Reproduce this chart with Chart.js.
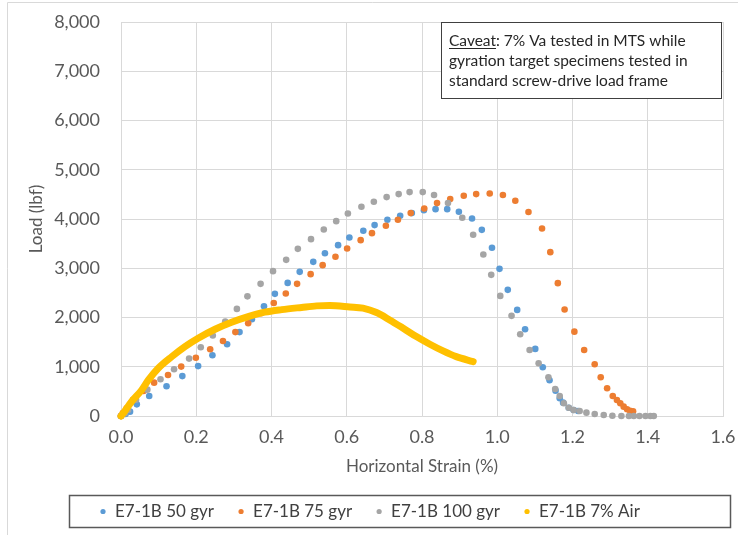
<!DOCTYPE html>
<html>
<head>
<meta charset="utf-8">
<script src="https://cdn.jsdelivr.net/npm/chart.js@4.4.1/dist/chart.umd.min.js"></script>
<style>
  html, body { margin: 0; padding: 0; background: #ffffff; }
  #wrap { width: 738px; height: 535px; position: relative; }
</style>
</head>
<body>
<div id="wrap"><canvas id="chart" width="738" height="535"></canvas></div>
<script>
// Indirect tension test results: load vs horizontal strain
const seriesLabels = ['E7-1B 50 gyr', 'E7-1B 75 gyr', 'E7-1B 100 gyr', 'E7-1B 7% Air'];

const strain50 = [0, 0.012, 0.024, 0.042, 0.075, 0.121, 0.163, 0.205, 0.243, 0.282, 0.315, 0.348, 0.380, 0.409, 0.443, 0.475, 0.511, 0.542, 0.577, 0.607, 0.644, 0.674, 0.708, 0.742, 0.773, 0.805, 0.836, 0.867, 0.898, 0.933, 0.959, 0.986, 1.006, 1.028, 1.053, 1.074, 1.101, 1.121, 1.139, 1.155, 1.166, 1.175, 1.190, 1.203, 1.215];
const load50 = [0, 40, 88, 237, 406, 605, 810, 1013, 1233, 1457, 1704, 1965, 2229, 2480, 2703, 2927, 3130, 3306, 3469, 3624, 3760, 3876, 3984, 4065, 4120, 4180, 4200, 4200, 4146, 4010, 3780, 3415, 2988, 2561, 2154, 1762, 1362, 990, 725, 515, 360, 271, 169, 122, 102];

const strain75 = [0, 0.005, 0.015, 0.032, 0.060, 0.088, 0.125, 0.160, 0.199, 0.237, 0.271, 0.304, 0.338, 0.372, 0.406, 0.438, 0.468, 0.504, 0.536, 0.570, 0.601, 0.637, 0.667, 0.704, 0.736, 0.770, 0.806, 0.840, 0.875, 0.911, 0.944, 0.980, 1.015, 1.048, 1.083, 1.119, 1.141, 1.161, 1.179, 1.205, 1.231, 1.259, 1.275, 1.292, 1.307, 1.318, 1.327, 1.336, 1.345, 1.353, 1.361];
const load75 = [0, 60, 156, 330, 510, 677, 833, 1003, 1182, 1355, 1524, 1704, 1884, 2087, 2293, 2486, 2683, 2880, 3063, 3232, 3401, 3571, 3713, 3862, 3984, 4120, 4214, 4323, 4404, 4472, 4506, 4519, 4486, 4370, 4143, 3807, 3327, 2697, 2161, 1713, 1341, 1051, 786, 563, 407, 325, 258, 190, 136, 108, 95];

const strain100 = [0, 0.010, 0.019, 0.040, 0.070, 0.105, 0.141, 0.181, 0.212, 0.244, 0.277, 0.308, 0.336, 0.371, 0.404, 0.439, 0.470, 0.505, 0.539, 0.572, 0.603, 0.639, 0.672, 0.706, 0.738, 0.767, 0.802, 0.832, 0.869, 0.907, 0.936, 0.963, 0.984, 1.008, 1.038, 1.061, 1.086, 1.110, 1.136, 1.154, 1.166, 1.177, 1.190, 1.203, 1.219, 1.237, 1.259, 1.283, 1.306, 1.330, 1.350, 1.363, 1.378, 1.394, 1.407, 1.416];
const load100 = [0, 50, 122, 330, 535, 745, 949, 1165, 1396, 1636, 1920, 2175, 2429, 2683, 2941, 3171, 3394, 3591, 3787, 3956, 4112, 4248, 4350, 4445, 4506, 4546, 4546, 4486, 4323, 4024, 3679, 3279, 2866, 2439, 2033, 1660, 1341, 1071, 786, 549, 407, 258, 169, 122, 102, 68, 41, 20, 6, 0, 0, 0, 0, 0, 0, 0];

const strainAir = [0, 0.012, 0.028, 0.055, 0.073, 0.099, 0.135, 0.170, 0.205, 0.250, 0.294, 0.338, 0.382, 0.427, 0.480, 0.520, 0.555, 0.608, 0.643, 0.679, 0.714, 0.750, 0.785, 0.821, 0.856, 0.891, 0.936];
const loadAir = [0, 120, 290, 528, 732, 970, 1206, 1409, 1579, 1762, 1904, 2018, 2108, 2160, 2205, 2236, 2245, 2215, 2189, 2100, 1951, 1782, 1612, 1457, 1321, 1205, 1104];

const xTickValues = [0, 0.2, 0.4, 0.6, 0.8, 1.0, 1.2, 1.4, 1.6];
const yTickValues = [0, 1000, 2000, 3000, 4000, 5000, 6000, 7000, 8000];

const caveatLines = [
  { lead: 'Caveat', rest: ': 7% Va tested in MTS while' },
  { lead: '', rest: 'gyration target specimens tested in' },
  { lead: '', rest: 'standard screw-drive load frame' }
];

const colors = ['#5B9BD5', '#ED7D31', '#A5A5A5', '#FFC000'];
const FONT = 'Lato, "Open Sans", sans-serif';

const toPoints = (xs, ys) => xs.map((x, i) => ({ x: x, y: ys[i] }));

function dotSeries(idx, xs, ys, order) {
  return {
    label: seriesLabels[idx],
    data: toPoints(xs, ys),
    showLine: false,
    pointRadius: 3.3,
    pointBorderWidth: 0,
    pointBackgroundColor: colors[idx],
    backgroundColor: colors[idx],
    borderColor: colors[idx],
    order: order,
    clip: false
  };
}

// Caveat note box, chart frame and legend box
const annotations = {
  id: 'annotations',
  afterDraw(chart) {
    const ctx = chart.ctx;
    ctx.save();

    // outer chart border (top and left)
    ctx.strokeStyle = '#d9d9d9';
    ctx.lineWidth = 1;
    ctx.beginPath();
    ctx.moveTo(7.5, 535);
    ctx.lineTo(7.5, 2.5);
    ctx.lineTo(738, 2.5);
    ctx.stroke();

    // caveat text box
    ctx.fillStyle = '#ffffff';
    ctx.fillRect(441, 22, 281, 77);
    ctx.strokeStyle = '#404040';
    ctx.lineWidth = 1;
    ctx.strokeRect(441.5, 22.5, 280, 76);
    ctx.font = '15.5px ' + FONT;
    ctx.fillStyle = '#262626';
    ctx.textBaseline = 'middle';
    ctx.textAlign = 'left';
    caveatLines.forEach((ln, i) => {
      const y = 41 + i * 20;
      let x = 449;
      if (ln.lead) {
        ctx.fillText(ln.lead, x, y);
        const w = ctx.measureText(ln.lead).width;
        ctx.fillRect(x, y + 7, w, 1);
        x += w;
      }
      ctx.fillText(ln.rest, x, y);
    });

    // legend box
    ctx.strokeStyle = '#595959';
    ctx.lineWidth = 1.5;
    ctx.strokeRect(69.5, 495.5, 661, 32);
    ctx.font = '17px ' + FONT;
    ctx.textBaseline = 'middle';
    let lx = 103;
    const ly = 511.5;
    seriesLabels.forEach((label, i) => {
      ctx.fillStyle = colors[i];
      ctx.beginPath();
      ctx.arc(lx, ly, 2.6, 0, Math.PI * 2);
      ctx.fill();
      ctx.fillStyle = '#404040';
      ctx.fillText(label, lx + 12, ly);
      lx += 12 + ctx.measureText(label).width + 27;
    });
    ctx.restore();
  }
};

new Chart(document.getElementById('chart'), {
  type: 'scatter',
  data: {
    datasets: [
      dotSeries(0, strain50, load50, 3),
      dotSeries(1, strain75, load75, 2),
      dotSeries(2, strain100, load100, 1),
      {
        label: seriesLabels[3],
        data: toPoints(strainAir, loadAir),
        showLine: true,
        borderColor: colors[3],
        backgroundColor: colors[3],
        borderWidth: 7,
        borderCapStyle: 'round',
        borderJoinStyle: 'round',
        cubicInterpolationMode: 'monotone',
        pointRadius: 0,
        order: 0,
        clip: false
      }
    ]
  },
  options: {
    responsive: false,
    animation: false,
    devicePixelRatio: 1,
    layout: { padding: { left: 0, right: 15, top: 22, bottom: 40 } },
    plugins: {
      legend: { display: false },
      tooltip: { enabled: false }
    },
    scales: {
      x: {
        type: 'linear',
        min: 0,
        max: 1.6,
        afterBuildTicks: s => { s.ticks = xTickValues.map(v => ({ value: v })); },
        afterFit: s => { s.height = 79; },
        grid: { color: '#d9d9d9', lineWidth: 1, drawTicks: true, tickLength: 10, tickColor: 'rgba(0,0,0,0)' },
        border: { display: true, color: '#d9d9d9' },
        ticks: {
          padding: 0,
          color: '#595959',
          font: { family: FONT, size: 18 },
          callback: v => Number(v).toFixed(1)
        },
        title: {
          display: true,
          text: 'Horizontal Strain (%)',
          color: '#595959',
          font: { family: FONT, size: 17 },
          padding: { top: 0, bottom: 18 }
        }
      },
      y: {
        type: 'linear',
        min: 0,
        max: 8000,
        afterBuildTicks: s => { s.ticks = yTickValues.map(v => ({ value: v })); },
        afterFit: s => { s.width = 121; },
        grid: { color: '#d9d9d9', lineWidth: 1, drawTicks: true, tickLength: 21, tickColor: 'rgba(0,0,0,0)' },
        border: { display: true, color: '#d9d9d9' },
        ticks: {
          padding: 0,
          color: '#595959',
          font: { family: FONT, size: 18 },
          callback: v => Number(v).toLocaleString('en-US')
        },
        title: {
          display: true,
          text: 'Load (lbf)',
          color: '#595959',
          font: { family: FONT, size: 17 },
          padding: { top: 26, bottom: 0 }
        }
      }
    }
  },
  plugins: [annotations]
});
</script>
</body>
</html>
